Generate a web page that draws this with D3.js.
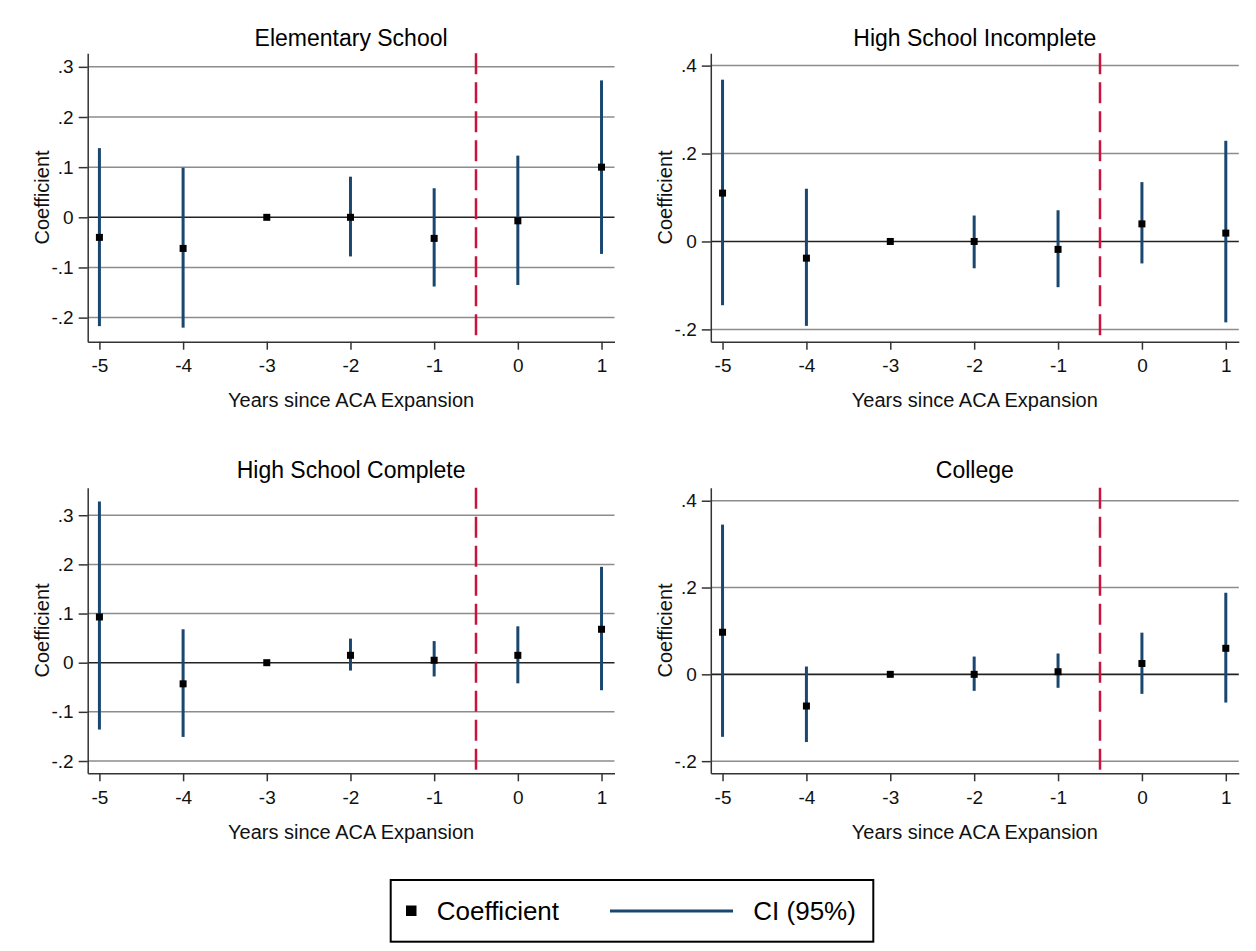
<!DOCTYPE html>
<html>
<head>
<meta charset="utf-8">
<script src="https://cdn.jsdelivr.net/npm/d3@7"></script>
<style>
    body { margin: 0; padding: 0; background: #fff; }
    svg { display: block; font-family: "Liberation Sans", Arial, sans-serif; }
</style>
</head>
<body>
<div id="main"></div>
<script>
// event-study estimates
const years = [-5, -4, -3, -2, -1, 0, 1];

const elemCoef = [-0.040, -0.062, 0, 0, -0.042, -0.007, 0.100];
const elemLow = [-0.217, -0.220, null, -0.078, -0.138, -0.135, -0.073];
const elemHigh = [0.138, 0.099, null, 0.081, 0.058, 0.123, 0.273];

const hsiCoef = [0.110, -0.038, 0, 0, -0.018, 0.040, 0.019];
const hsiLow = [-0.145, -0.192, null, -0.061, -0.104, -0.050, -0.184];
const hsiHigh = [0.368, 0.120, null, 0.059, 0.071, 0.135, 0.229];

const hscCoef = [0.093, -0.043, 0, 0.015, 0.005, 0.015, 0.068];
const hscLow = [-0.136, -0.151, null, -0.016, -0.028, -0.042, -0.056];
const hscHigh = [0.328, 0.068, null, 0.049, 0.044, 0.074, 0.195];

const colCoef = [0.097, -0.073, 0, 0, 0.006, 0.025, 0.060];
const colLow = [-0.144, -0.156, null, -0.038, -0.031, -0.045, -0.065];
const colHigh = [0.345, 0.018, null, 0.041, 0.048, 0.096, 0.188];

const panelTitles = ['Elementary School', 'High School Incomplete', 'High School Complete', 'College'];
const yTicksTenths = [-0.2, -0.1, 0, 0.1, 0.2, 0.3];
const yTicksFifths = [-0.2, 0, 0.2, 0.4];
const expansionAt = -0.5;
const xLabel = 'Years since ACA Expansion';
const yLabel = 'Coefficient';
const legendLabels = ['Coefficient', 'CI (95%)'];

const WIDTH = 1256;
const HEIGHT = 951;
const CICOLOUR = '#1a476f';
const REDLINE = '#c8143c';
const GRIDCOLOUR = '#8c8c8c';
const AXISCOLOUR = '#333';

const panels = [
    {title: panelTitles[0], coef: elemCoef, low: elemLow, high: elemHigh, ticks: yTicksTenths, yDomain: [-0.248, 0.327], x0: 87.7, x1: 614.5, y0: 53.3, y1: 341.7, titleY: 46},
    {title: panelTitles[1], coef: hsiCoef, low: hsiLow, high: hsiHigh, ticks: yTicksFifths, yDomain: [-0.228, 0.428], x0: 710.8, x1: 1238.8, y0: 53.3, y1: 341.7, titleY: 46},
    {title: panelTitles[2], coef: hscCoef, low: hscLow, high: hscHigh, ticks: yTicksTenths, yDomain: [-0.225, 0.356], x0: 87.7, x1: 614.5, y0: 487.7, y1: 773.3, titleY: 478},
    {title: panelTitles[3], coef: colCoef, low: colLow, high: colHigh, ticks: yTicksFifths, yDomain: [-0.228, 0.430], x0: 710.8, x1: 1238.8, y0: 487.7, y1: 773.3, titleY: 478}
];

// stata style: plain hyphen, no leading zero
const yFormat = (d) => d === 0 ? '0' : d3.format('.1f')(d).replace('\u2212', '-').replace('0.', '.');
const xFormat = (d) => d3.format('d')(d).replace('\u2212', '-');

const svg = d3.select('#main').append('svg').attr('width', WIDTH).attr('height', HEIGHT);
svg.append('rect').attr('width', WIDTH).attr('height', HEIGHT).attr('fill', '#fff');

const drawPanel = (p) => {
    const scaleX = d3.scaleLinear().domain([-5.14, 1.155]).range([p.x0, p.x1]);
    const scaleY = d3.scaleLinear().domain(p.yDomain).range([p.y1, p.y0]);
    const g = svg.append('g');
    const rows = years.map((yr, i) => ({year: yr, coef: p.coef[i], low: p.low[i], high: p.high[i]}));

    g.selectAll('line.grid').data(p.ticks.filter((t) => t !== 0)).enter().append('line')
        .attr('class', 'grid')
        .attr('x1', p.x0).attr('x2', p.x1)
        .attr('y1', (d) => scaleY(d)).attr('y2', (d) => scaleY(d))
        .attr('stroke', GRIDCOLOUR).attr('stroke-width', 1.5);
    g.append('line')
        .attr('x1', p.x0).attr('x2', p.x1)
        .attr('y1', scaleY(0)).attr('y2', scaleY(0))
        .attr('stroke', '#222').attr('stroke-width', 1.6);

    g.append('line')
        .attr('x1', scaleX(expansionAt)).attr('x2', scaleX(expansionAt))
        .attr('y1', p.y0).attr('y2', p.y1)
        .attr('stroke', REDLINE).attr('stroke-width', 2.5)
        .attr('stroke-dasharray', '21,8');

    g.selectAll('line.ci').data(rows.filter((d) => d.low !== null)).enter().append('line')
        .attr('class', 'ci')
        .attr('x1', (d) => scaleX(d.year)).attr('x2', (d) => scaleX(d.year))
        .attr('y1', (d) => scaleY(d.low)).attr('y2', (d) => scaleY(d.high))
        .attr('stroke', CICOLOUR).attr('stroke-width', 3);
    g.selectAll('rect.coef').data(rows).enter().append('rect')
        .attr('class', 'coef')
        .attr('x', (d) => scaleX(d.year) - 3.5).attr('y', (d) => scaleY(d.coef) - 3.5)
        .attr('width', 7).attr('height', 7)
        .attr('fill', '#000');

    const axisY = d3.axisLeft(scaleY).tickValues(p.ticks).tickFormat(yFormat).tickSize(9).tickSizeOuter(0).tickPadding(5);
    const axisX = d3.axisBottom(scaleX).tickValues(years).tickFormat(xFormat).tickSize(8).tickSizeOuter(0).tickPadding(9);
    const gy = g.append('g').attr('transform', `translate(${p.x0}, 0)`).call(axisY);
    const gx = g.append('g').attr('transform', `translate(0, ${p.y1})`).call(axisX);
    [gy, gx].forEach((a) => {
        a.selectAll('path, line').attr('stroke', AXISCOLOUR).attr('stroke-width', 1.5);
        a.selectAll('text').attr('font-size', 19).attr('fill', '#111').attr('font-family', '"Liberation Sans", Arial, sans-serif');
    });

    g.append('text')
        .attr('x', (p.x0 + p.x1) / 2).attr('y', p.titleY)
        .attr('text-anchor', 'middle').attr('font-size', 23).attr('fill', '#000')
        .text(p.title);
    g.append('text')
        .attr('x', (p.x0 + p.x1) / 2).attr('y', p.y1 + 65.5)
        .attr('text-anchor', 'middle').attr('font-size', 20).attr('fill', '#111')
        .text(xLabel);
    g.append('text')
        .attr('transform', `translate(${p.x0 - 39}, ${(p.y0 + p.y1) / 2}) rotate(-90)`)
        .attr('text-anchor', 'middle').attr('font-size', 20).attr('fill', '#111')
        .text(yLabel);
};

panels.forEach(drawPanel);

// legend
const legend = svg.append('g');
legend.append('rect')
    .attr('x', 390.7).attr('y', 880).attr('width', 482.6).attr('height', 61.7)
    .attr('fill', '#fff').attr('stroke', '#000').attr('stroke-width', 2);
legend.append('rect')
    .attr('x', 406).attr('y', 905.5).attr('width', 10.5).attr('height', 10.5)
    .attr('fill', '#000');
legend.append('text')
    .attr('x', 436.7).attr('y', 920).attr('font-size', 26).attr('fill', '#000')
    .text(legendLabels[0]);
legend.append('line')
    .attr('x1', 610).attr('x2', 733).attr('y1', 911).attr('y2', 911)
    .attr('stroke', CICOLOUR).attr('stroke-width', 3);
legend.append('text')
    .attr('x', 753.3).attr('y', 920).attr('font-size', 26).attr('fill', '#000')
    .text(legendLabels[1]);
</script>
</body>
</html>
